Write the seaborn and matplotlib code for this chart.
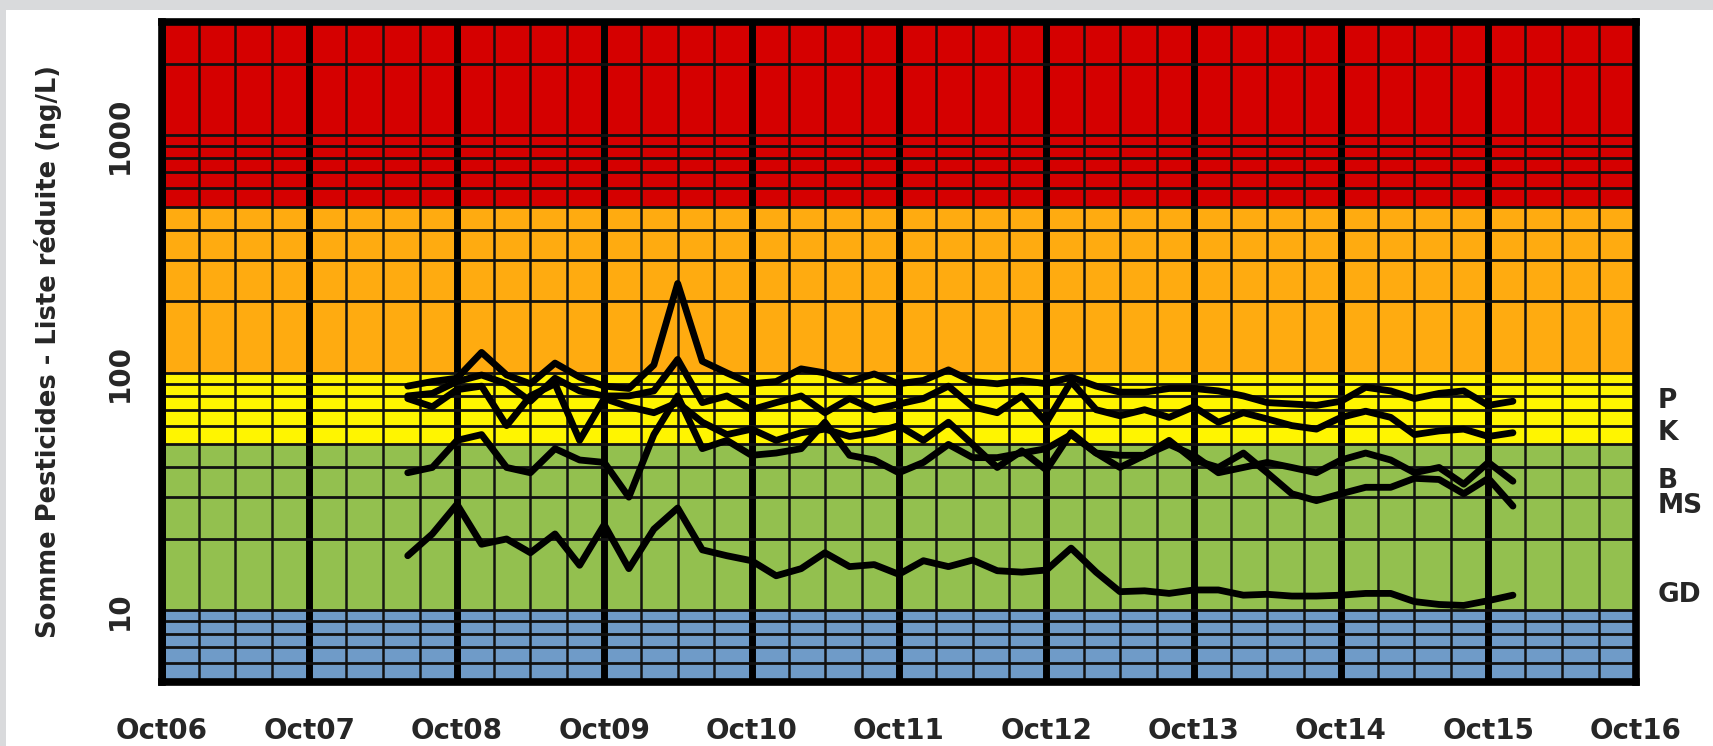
import numpy as np
import pandas as pd
import seaborn as sns
import matplotlib
matplotlib.use('Agg')
import matplotlib.pyplot as plt
import matplotlib.dates as mdates
import matplotlib.transforms as mtransforms
from matplotlib.ticker import FixedLocator, LogLocator, NullFormatter
from matplotlib.patches import Rectangle

# sampling dates (about every two months)
dates = ['2008-06', '2008-08', '2008-10', '2008-12', '2009-02', '2009-04', '2009-06', '2009-08',
         '2009-10', '2009-12', '2010-02', '2010-04', '2010-06', '2010-08', '2010-10', '2010-12',
         '2011-02', '2011-04', '2011-06', '2011-08', '2011-10', '2011-12', '2012-02', '2012-04',
         '2012-06', '2012-08', '2012-10', '2012-12', '2013-02', '2013-04', '2013-06', '2013-08',
         '2013-10', '2013-12', '2014-02', '2014-04', '2014-06', '2014-08', '2014-10', '2014-12',
         '2015-02', '2015-04', '2015-06', '2015-08', '2015-10', '2015-12']

p_vals = [88, 92, 95, 122, 98, 90, 110, 96, 88, 86, 108, 238, 112, 100, 90, 92,
          104, 100, 92, 99, 90, 93, 103, 92, 90, 93, 90, 96, 88, 83, 83, 86,
          86, 84, 80, 75, 74, 73, 76, 87, 84, 78, 82, 84, 73, 76]
k_vals = [80, 82, 92, 98, 90, 76, 95, 84, 80, 80, 84, 114, 75, 80, 70, 75,
          80, 68, 78, 70, 74, 78, 88, 72, 68, 80, 62, 92, 70, 66, 70, 65,
          72, 62, 68, 64, 60, 58, 65, 69, 65, 55, 57, 58, 54, 56]
b_vals = [38, 40, 52, 55, 40, 38, 48, 43, 42, 30, 55, 80, 48, 52, 45, 46,
          48, 62, 45, 43, 38, 42, 50, 44, 44, 46, 48, 55, 46, 45, 45, 50,
          45, 38, 40, 42, 40, 38, 43, 46, 43, 38, 40, 34, 42, 35]
ms_vals = [78, 72, 85, 88, 60, 80, 90, 52, 78, 72, 68, 75, 62, 55, 58, 52,
           56, 58, 54, 56, 60, 52, 62, 50, 40, 47, 39, 56, 46, 40, 45, 52,
           43, 40, 46, 38, 31, 29, 31, 33, 33, 36, 35.6, 31, 36, 27.5]
gd_vals = [17, 21, 28, 19, 20, 17.5, 21, 15.5, 23, 15, 22, 27, 18, 17, 16.2, 14,
           15, 17.5, 15.3, 15.6, 14.2, 16.2, 15.3, 16.3, 14.7, 14.5, 14.8, 18.3, 14.5, 12, 12.1, 11.8,
           12.2, 12.2, 11.6, 11.7, 11.5, 11.5, 11.6, 11.8, 11.8, 10.9, 10.6, 10.5, 11.0, 11.6]

sites = ['P', 'K', 'B', 'MS', 'GD']
site_vals = [p_vals, k_vals, b_vals, ms_vals, gd_vals]

# quality classes (ng/L)
band_edges = [5, 10, 50, 100, 500, 3000]
band_colors = ['#6f9bc8', '#93c04f', '#fff500', '#ffab10', '#d50000']

year_ticks = ['2006-10-01', '2007-10-01', '2008-10-01', '2009-10-01', '2010-10-01', '2011-10-01',
              '2012-10-01', '2013-10-01', '2014-10-01', '2015-10-01', '2016-10-01']
year_labels = ['Oct06', 'Oct07', 'Oct08', 'Oct09', 'Oct10', 'Oct11',
               'Oct12', 'Oct13', 'Oct14', 'Oct15', 'Oct16']
y_ticks = [10, 100, 1000]
y_labels = ['10', '100', '1000']

df = pd.concat([pd.DataFrame({'date': pd.to_datetime(dates), 'value': v, 'site': s})
                for s, v in zip(sites, site_vals)], ignore_index=True)

sns.set_style('white')
plt.rcParams['font.family'] = ['DejaVu Sans']

fig = plt.figure(figsize=(17.13, 7.46), dpi=100, facecolor='white')
# grey frame of the screenshot (top and left only)
fig.patches.append(Rectangle((0, 1 - 10 / 746), 1, 10 / 746, transform=fig.transFigure, fc='#d9dadc', lw=0))
fig.patches.append(Rectangle((0, 0), 6 / 1713, 1, transform=fig.transFigure, fc='#d9dadc', lw=0))

ax = fig.add_axes([162 / 1713, 64 / 746, 1474 / 1713, 660 / 746])

for lo, hi, c in zip(band_edges[:-1], band_edges[1:], band_colors):
    ax.axhspan(lo, hi, color=c, lw=0, zorder=0)

sns.lineplot(data=df, x='date', y='value', hue='site', hue_order=sites,
             palette=['black'] * len(sites), linewidth=4.9, legend=False,
             estimator=None, ax=ax, zorder=3, solid_joinstyle='round', solid_capstyle='round')

ax.set_yscale('log')
ax.set_ylim(band_edges[0], band_edges[-1])
ax.set_xlim(pd.Timestamp(year_ticks[0]), pd.Timestamp(year_ticks[-1]))

ax.yaxis.set_major_locator(FixedLocator(y_ticks))
ax.yaxis.set_minor_locator(LogLocator(base=10, subs=np.arange(2, 10), numticks=20))
ax.yaxis.set_minor_formatter(NullFormatter())
ax.set_yticklabels(y_labels, rotation=90, va='center', fontweight='bold')

ax.set_xticks(pd.to_datetime(year_ticks))
ax.set_xticklabels(year_labels, fontweight='bold')
ax.xaxis.set_minor_locator(mdates.MonthLocator(bymonth=[1, 4, 7]))

ax.set_axisbelow('line')
ax.grid(which='both', axis='y', color='#111111', lw=2.0)
ax.grid(which='minor', axis='x', color='#111111', lw=1.8)
ax.grid(which='major', axis='x', color='black', lw=5.0)

ax.tick_params(axis='y', which='major', direction='out', length=8, width=4.5, labelsize=20, pad=12)
ax.tick_params(axis='y', which='minor', length=0)
ax.tick_params(axis='x', which='both', length=0, labelsize=20, pad=25)
for sp in ax.spines.values():
    sp.set_linewidth(5.5)
    sp.set_color('black')

ax.set_xlabel('')
ax.set_ylabel('Somme Pesticides - Liste réduite (ng/L)', fontsize=18.5, fontweight='bold')
ax.yaxis.set_label_coords(-100 / 1474, 0.5)

# site names at the end of each line
trans = mtransforms.blended_transform_factory(ax.transAxes, ax.transData)
for s, v in zip(sites, site_vals):
    ax.text(1.015, v[-1], s, transform=trans, fontsize=19, fontweight='bold', va='center', ha='left')

fig.savefig('out.png', dpi=100, facecolor=fig.get_facecolor())
